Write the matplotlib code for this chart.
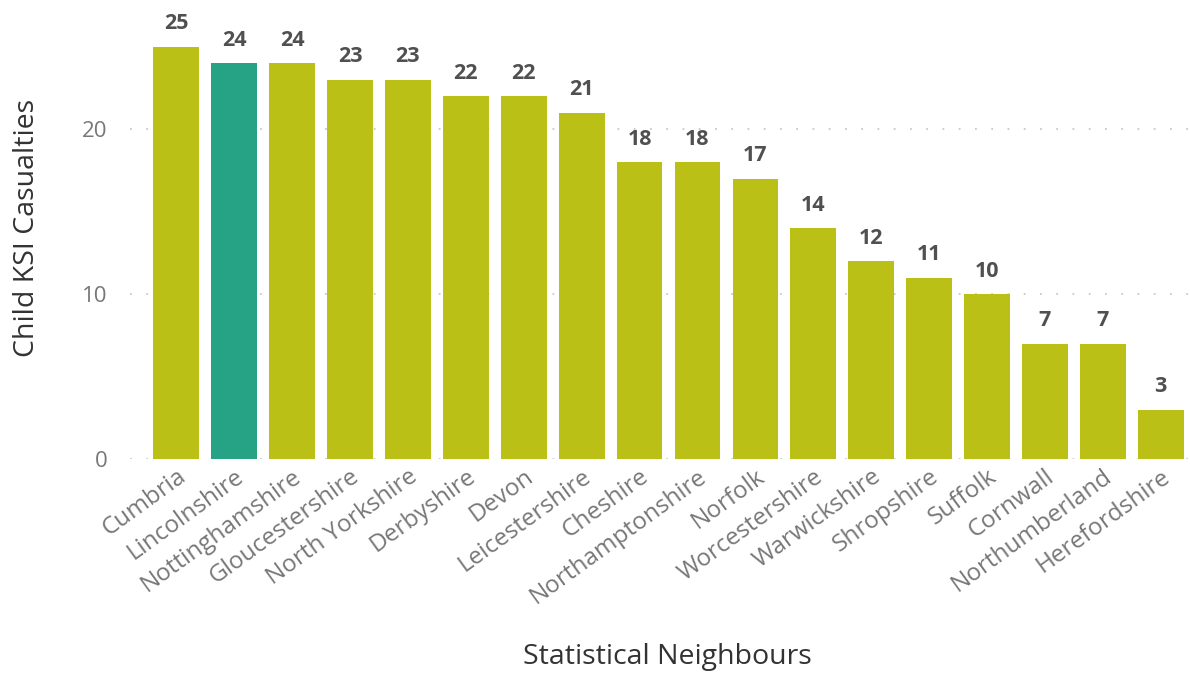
import matplotlib
matplotlib.use("Agg")
import matplotlib.pyplot as plt
from matplotlib.transforms import ScaledTranslation

categories = ["Cumbria", "Lincolnshire", "Nottinghamshire", "Gloucestershire", "North Yorkshire",
              "Derbyshire", "Devon", "Leicestershire", "Cheshire", "Northamptonshire", "Norfolk",
              "Worcestershire", "Warwickshire", "Shropshire", "Suffolk", "Cornwall",
              "Northumberland", "Herefordshire"]
values = [25, 24, 24, 23, 23, 22, 22, 21, 18, 18, 17, 14, 12, 11, 10, 7, 7, 3]
highlight = "Lincolnshire"
yticks = [0, 10, 20]

plt.rcParams['font.family'] = ['Open Sans', 'DejaVu Sans']

fig = plt.figure(figsize=(11.9, 6.75), dpi=100)
ax = fig.add_axes([130/1190, 216/675, 1058/1190, (675-216-13.5)/675])

olive = "#BAC015"
teal = "#26A385"
colors = [teal if c == highlight else olive for c in categories]
x = list(range(len(categories)))
ax.bar(x, values, width=0.79, color=colors, zorder=3)

for xi, v in zip(x, values):
    ax.text(xi, v + 0.75, str(v), ha='center', va='bottom', fontsize=15.5,
            fontweight='bold', color='#505050', zorder=4)

ax.set_xlim(-0.8, 17.47)
ax.set_ylim(0, 27)
ax.set_yticks(yticks)
ax.set_yticklabels([str(t) for t in yticks], fontsize=16, color='#777777')
ax.set_xticks(x)
ax.set_xticklabels(categories, rotation=36, ha='right', rotation_mode='anchor',
                   fontsize=17.5, color='#777777')
off = ScaledTranslation(13/100, 0, fig.dpi_scale_trans)
for lab in ax.get_xticklabels():
    lab.set_transform(lab.get_transform() + off)
ax.tick_params(axis='both', length=0)
ax.tick_params(axis='y', pad=16)
ax.tick_params(axis='x', pad=4)
ax.grid(axis='y', color='#C8C8C8', linestyle=(0, (1, 8)), linewidth=1.3, zorder=0)
for s in ax.spines.values():
    s.set_visible(False)

ax.set_ylabel("Child KSI Casualties", fontsize=20.5, color='#333333')
ax.yaxis.label.set_va('center')
ax.yaxis.label.set_ha('center')
ax.yaxis.set_label_coords(-0.097, 0.518)
ax.set_xlabel("Statistical Neighbours", fontsize=20.5, color='#333333')
ax.xaxis.label.set_va('center')
ax.xaxis.set_label_coords(0.508, -0.444)

fig.savefig("out.png", dpi=100)
